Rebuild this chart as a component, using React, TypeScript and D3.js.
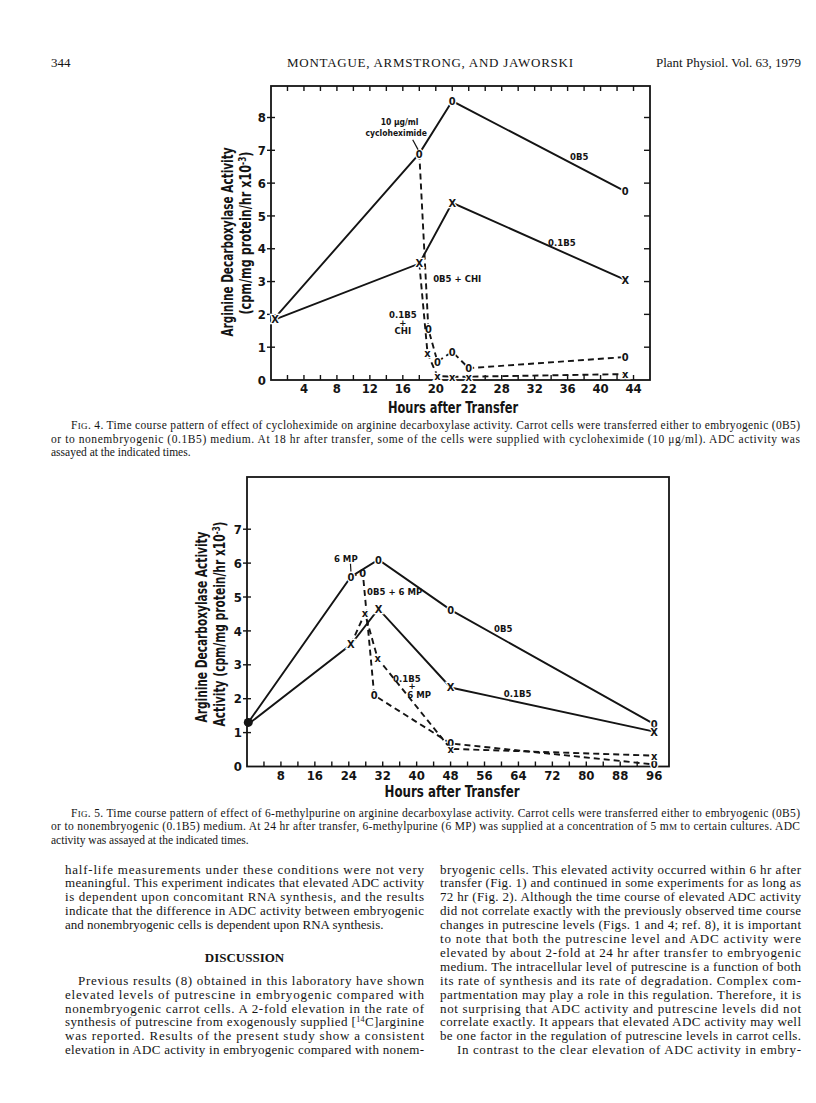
import React from 'react';
import * as d3 from 'd3';

// ---------------- Fig. 4 data (hours after transfer, ADC activity x10^-3) ----------------
const fig4Hours0B5 = [0.5, 18, 22, 43];
const fig4Act0B5 = [1.9, 6.9, 8.5, 5.75];
const fig4Hours01B5 = [0.5, 18, 22, 43];
const fig4Act01B5 = [1.85, 3.55, 5.4, 3.05];
const fig4Hours0B5CHI = [18, 19.1, 20.2, 22, 24, 43];
const fig4Act0B5CHI = [6.9, 1.55, 0.56, 0.86, 0.36, 0.7];
const fig4Hours01B5CHI = [18, 19, 20.2, 22, 24, 43];
const fig4Act01B5CHI = [3.55, 0.81, 0.12, 0.1, 0.1, 0.18];
const fig4XTickValues = [4, 8, 12, 16, 20, 24, 28, 32, 36, 40, 44];
const fig4XTickLabels = ['4', '8', '12', '16', '20', '22', '28', '32', '36', '40', '44'];
const fig4YTicks = [0, 1, 2, 3, 4, 5, 6, 7, 8];

// ---------------- Fig. 5 data ----------------
const fig5Hours0B5 = [0.3, 24.5, 31, 48, 96];
const fig5Act0B5 = [1.3, 5.6, 6.1, 4.62, 1.25];
const fig5Hours01B5 = [0.3, 24.5, 31, 48, 96];
const fig5Act01B5 = [1.25, 3.6, 4.65, 2.33, 1.03];
const fig5Hours0B5MP = [24.5, 27.3, 30, 48, 96];
const fig5Act0B5MP = [5.6, 5.72, 2.1, 0.68, 0.06];
const fig5Hours01B5MP = [24.5, 27.8, 30.8, 48, 96];
const fig5Act01B5MP = [3.6, 4.52, 3.19, 0.52, 0.32];
const fig5XTickLabels = ['8', '16', '24', '32', '40', '48', '56', '64', '72', '80', '88', '96'];
const fig5YTicks = [0, 1, 2, 3, 4, 5, 6, 7];

// ---------------- Text ----------------
const caption4 = [
  ['Time course pattern of effect of cycloheximide on arginine decarboxylase activity. Carrot cells were transferred either to embryogenic (0B5)'],
  ['or to nonembryogenic (0.1B5) medium. At 18 hr after transfer, some of the cells were supplied with cycloheximide (10 μg/ml). ADC activity was'],
  ['assayed at the indicated times.'],
];
const caption5 = [
  ['Time course pattern of effect of 6-methylpurine on arginine decarboxylase activity. Carrot cells were transferred either to embryogenic (0B5)'],
  ['or to nonembryogenic (0.1B5) medium. At 24 hr after transfer, 6-methylpurine (6 MP) was supplied at a concentration of 5 m'],
  ['activity was assayed at the indicated times.'],
];
const bodyLeftTop = [
  'half-life measurements under these conditions were not very',
  'meaningful. This experiment indicates that elevated ADC activity',
  'is dependent upon concomitant RNA synthesis, and the results',
  'indicate that the difference in ADC activity between embryogenic',
  'and nonembryogenic cells is dependent upon RNA synthesis.',
];
const bodyLeftBottom = [
  'Previous results (8) obtained in this laboratory have shown',
  'elevated levels of putrescine in embryogenic compared with',
  'nonembryogenic carrot cells. A 2-fold elevation in the rate of',
  'synthesis of putrescine from exogenously supplied [',
  'was reported. Results of the present study show a consistent',
  'elevation in ADC activity in embryogenic compared with nonem-',
];
const bodyRight = [
  'bryogenic cells. This elevated activity occurred within 6 hr after',
  'transfer (Fig. 1) and continued in some experiments for as long as',
  '72 hr (Fig. 2). Although the time course of elevated ADC activity',
  'did not correlate exactly with the previously observed time course',
  'changes in putrescine levels (Figs. 1 and 4; ref. 8), it is important',
  'to note that both the putrescine level and ADC activity were',
  'elevated by about 2-fold at 24 hr after transfer to embryogenic',
  'medium. The intracellular level of putrescine is a function of both',
  'its rate of synthesis and its rate of degradation. Complex com-',
  'partmentation may play a role in this regulation. Therefore, it is',
  'not surprising that ADC activity and putrescine levels did not',
  'correlate exactly. It appears that elevated ADC activity may well',
  'be one factor in the regulation of putrescine levels in carrot cells.',
  'In contrast to the clear elevation of ADC activity in embry-',
];

const SANS = "'Liberation Sans Narrow','Arial Narrow','DejaVu Sans Condensed','Liberation Sans',sans-serif";
const SERIF = "'Liberation Serif','Times New Roman',serif";
const INK = '#141414';

type P = [number, number];
const zip = (a: number[], b: number[]): P[] => a.map((h, i) => [h, b[i]]);

function Marker({ x, y, ch, size = 11 }: { x: number; y: number; ch: string; size?: number }) {
  return (
    <text x={x} y={y} dy="0.36em" textAnchor="middle" fontFamily={SANS} fontWeight="bold"
      fontSize={size} stroke="#fff" strokeWidth={2.5} paintOrder="stroke" fill={INK}>{ch}</text>
  );
}

function Series({ pts, x, y, dashed, ch, skipFirst = false }: any) {
  const line = d3.line<P>().x(d => x(d[0])).y(d => y(d[1]));
  return (
    <g>
      <path d={line(pts) || ''} fill="none" stroke={INK} strokeWidth={1.9}
        strokeDasharray={dashed ? '6,4' : undefined} />
      {pts.map((d: P, i: number) => (skipFirst && i === 0) ? null :
        <Marker key={i} x={x(d[0])} y={y(d[1])} ch={ch} />)}
    </g>
  );
}

function Lbl({ x, y, t, size = 9.5, anchor = 'middle' }: any) {
  return <text x={x} y={y} dy="0.35em" textAnchor={anchor} fontFamily={SANS} fontWeight="bold" fontSize={size} fill={INK}>{t}</text>;
}

function Fig4() {
  const x = d3.scaleLinear().domain([0, 46]).range([271, 650]);
  const y = d3.scaleLinear().domain([0, 8.96]).range([380, 86]);
  const minor = d3.range(2, 46, 2);
  return (
    <g>
      <rect x={x(0)} y={y(8.96)} width={x(46) - x(0)} height={y(0) - y(8.96)} fill="none" stroke={INK} strokeWidth={1.8} />
      {minor.map(h => <line key={'b' + h} x1={x(h)} x2={x(h)} y1={y(0)} y2={y(0) - 5} stroke={INK} strokeWidth={1.4} />)}
      {minor.map(h => <line key={'t' + h} x1={x(h)} x2={x(h)} y1={y(8.96)} y2={y(8.96) + 5} stroke={INK} strokeWidth={1.4} />)}
      {fig4YTicks.slice(1).map(v => <line key={'l' + v} x1={x(0) - 4} x2={x(0) + 4} y1={y(v)} y2={y(v)} stroke={INK} strokeWidth={1.4} />)}
      {fig4YTicks.slice(1).map(v => <line key={'r' + v} x1={x(46)} x2={x(46) - 6} y1={y(v)} y2={y(v)} stroke={INK} strokeWidth={1.4} />)}
      {fig4YTicks.map(v => <text key={'yl' + v} x={x(0) - 5} y={y(v)} dy="0.36em" textAnchor="end" fontFamily={SANS} fontWeight="bold" fontSize={13} fill={INK}>{v}</text>)}
      {fig4XTickValues.map((h, i) => <text key={'xl' + h} x={x(h)} y={y(0) + 13} textAnchor="middle" fontFamily={SANS} fontWeight="bold" fontSize={13} fill={INK}>{fig4XTickLabels[i]}</text>)}
      <text transform="translate(233,242) rotate(-90)" textAnchor="middle" fontFamily={SANS} fontWeight="bold" fontSize={15} fill={INK} textLength={189} lengthAdjust="spacingAndGlyphs">Arginine  Decarboxylase  Activity</text>
      <text transform="translate(251,233) rotate(-90)" textAnchor="middle" fontFamily={SANS} fontWeight="bold" fontSize={15} fill={INK} textLength={163} lengthAdjust="spacingAndGlyphs">(cpm/mg  protein/hr x10<tspan dy="-5" fontSize={10}>-3</tspan><tspan dy="5">)</tspan></text>
      <text x={453} y={413} textAnchor="middle" fontFamily={SANS} fontWeight="bold" fontSize={16} fill={INK} textLength={130} lengthAdjust="spacingAndGlyphs">Hours  after Transfer</text>

      <Series pts={zip(fig4Hours0B5CHI, fig4Act0B5CHI)} x={x} y={y} dashed ch="0" skipFirst />
      <Series pts={zip(fig4Hours01B5CHI, fig4Act01B5CHI)} x={x} y={y} dashed ch="x" skipFirst />
      <Series pts={zip(fig4Hours0B5, fig4Act0B5)} x={x} y={y} ch="0" />
      <Series pts={zip(fig4Hours01B5, fig4Act01B5)} x={x} y={y} ch="X" />

      <Lbl x={x(15.6)} y={y(7.86)} t="10 μg/ml" size={8.5} />
      <Lbl x={x(15.2)} y={y(7.52)} t="cycloheximide" size={8.5} />
      <line x1={x(17.2)} y1={y(7.32)} x2={x(17.85)} y2={y(7.02)} stroke={INK} strokeWidth={1.2} />
      <Lbl x={x(37.4)} y={y(6.8)} t="0B5" />
      <Lbl x={x(35.3)} y={y(4.2)} t="0.1B5" />
      <Lbl x={x(22.6)} y={y(3.08)} t="0B5 + CHI" />
      <Lbl x={x(16)} y={y(1.98)} t="0.1B5" />
      <Lbl x={x(16)} y={y(1.74)} t="+" />
      <Lbl x={x(16)} y={y(1.49)} t="CHI" />
    </g>
  );
}

function Fig5() {
  const x = d3.scaleLinear().domain([0, 99.5]).range([247, 669]);
  const y = d3.scaleLinear().domain([0, 8.54]).range([766.5, 477]);
  const minor = d3.range(4, 97, 4);
  const labelsAt = d3.range(8, 97, 8);
  return (
    <g>
      <rect x={x(0)} y={y(8.54)} width={x(99.5) - x(0)} height={y(0) - y(8.54)} fill="none" stroke={INK} strokeWidth={1.8} />
      {minor.map(h => <line key={'b' + h} x1={x(h)} x2={x(h)} y1={y(0)} y2={y(0) - 5} stroke={INK} strokeWidth={1.4} />)}
      {fig5YTicks.slice(1).map(v => <line key={'l' + v} x1={x(0) - 4} x2={x(0) + 4} y1={y(v)} y2={y(v)} stroke={INK} strokeWidth={1.4} />)}
      {fig5YTicks.map(v => <text key={'yl' + v} x={x(0) - 5} y={y(v)} dy="0.36em" textAnchor="end" fontFamily={SANS} fontWeight="bold" fontSize={13} fill={INK}>{v}</text>)}
      {labelsAt.map((h, i) => <text key={'xl' + h} x={x(h)} y={y(0) + 13} textAnchor="middle" fontFamily={SANS} fontWeight="bold" fontSize={13} fill={INK}>{fig5XTickLabels[i]}</text>)}
      <text transform="translate(207,627) rotate(-90)" textAnchor="middle" fontFamily={SANS} fontWeight="bold" fontSize={15} fill={INK} textLength={191} lengthAdjust="spacingAndGlyphs">Arginine  Decarboxylase  Activity</text>
      <text transform="translate(225,624) rotate(-90)" textAnchor="middle" fontFamily={SANS} fontWeight="bold" fontSize={15} fill={INK} textLength={205} lengthAdjust="spacingAndGlyphs">Activity (cpm/mg protein/hr x10<tspan dy="-5" fontSize={10}>-3</tspan><tspan dy="5">)</tspan></text>
      <text x={452} y={797} textAnchor="middle" fontFamily={SANS} fontWeight="bold" fontSize={16} fill={INK} textLength={135} lengthAdjust="spacingAndGlyphs">Hours  after  Transfer</text>

      <Series pts={zip(fig5Hours0B5MP, fig5Act0B5MP)} x={x} y={y} dashed ch="0" skipFirst />
      <Series pts={zip(fig5Hours01B5MP, fig5Act01B5MP)} x={x} y={y} dashed ch="x" skipFirst />
      <Series pts={zip(fig5Hours0B5, fig5Act0B5)} x={x} y={y} ch="0" skipFirst />
      <Series pts={zip(fig5Hours01B5, fig5Act01B5)} x={x} y={y} ch="X" skipFirst />
      <circle cx={x(fig5Hours0B5[0])} cy={y(fig5Act0B5[0])} r={4.5} fill={INK} />

      <Lbl x={x(23.3)} y={y(6.12)} t="6 MP" />
      <line x1={x(24.4)} y1={y(5.98)} x2={x(24.5)} y2={y(5.75)} stroke={INK} strokeWidth={1.2} />
      <Lbl x={x(28.3)} y={y(5.16)} t="0B5 + 6 MP" anchor="start" />
      <Lbl x={x(60.4)} y={y(4.08)} t="0B5" />
      <Lbl x={x(63.8)} y={y(2.14)} t="0.1B5" />
      <Lbl x={x(37.7)} y={y(2.6)} t="0.1B5" />
      <Lbl x={x(38.9)} y={y(2.38)} t="+" />
      <Lbl x={x(40.6)} y={y(2.11)} t="6 MP" />
    </g>
  );
}

function Caption({ num, lines, y0, tail }: any) {
  const L = 51, R = 800, step = 13.5, ind = 20;
  return (
    <g fontFamily={SERIF} fontSize={11.5} fill={INK}>
      <text x={L + ind} y={y0} textLength={R - L - ind} lengthAdjust="spacing">F<tspan fontSize={9}>IG</tspan>. {num}. {lines[0][0]}</text>
      <text x={L} y={y0 + step} textLength={R - L} lengthAdjust="spacing">{lines[1][0]}{tail}</text>
      <text x={L} y={y0 + 2 * step}>{lines[2][0]}</text>
    </g>
  );
}

function Body() {
  const L1 = 65, R1 = 424, L2 = 440, R2 = 801, step = 13.9, b0 = 873.5;
  return (
    <g fontFamily={SERIF} fontSize={13} fill={INK}>
      {bodyLeftTop.map((t, i) => (
        <text key={'lt' + i} x={L1} y={b0 + i * step} {...(i < bodyLeftTop.length - 1 ? { textLength: R1 - L1, lengthAdjust: 'spacing' } : {})}>{t}</text>
      ))}
      <text x={(L1 + R1) / 2} y={961.5} textAnchor="middle" fontWeight="bold" fontSize={13}>DISCUSSION</text>
      {bodyLeftBottom.map((t, i) => {
        const indent = i === 0 ? 13 : 0;
        return (
          <text key={'lb' + i} x={L1 + indent} y={b0 + (i + 8) * step} textLength={R1 - L1 - indent} lengthAdjust="spacing">
            {t}{i === 3 ? <><tspan dy="-4" fontSize={8}>14</tspan><tspan dy="4">C]arginine</tspan></> : null}
          </text>
        );
      })}
      {bodyRight.map((t, i) => {
        const indent = i === bodyRight.length - 1 ? 17 : 0;
        return (
          <text key={'r' + i} x={L2 + indent} y={b0 + i * step} textLength={R2 - L2 - indent} lengthAdjust="spacing">{t}</text>
        );
      })}
    </g>
  );
}

export default function App() {
  return (
    <svg width={816} height={1103} viewBox="0 0 816 1103" style={{ position: 'absolute', left: 0, top: 0, background: '#fff' }}>
      <rect width={816} height={1103} fill="#fff" />
      <g fontFamily={SERIF} fill={INK}>
        <text x={51} y={67} fontSize={13}>344</text>
        <text x={287} y={67} fontSize={13} textLength={286} lengthAdjust="spacing">MONTAGUE, ARMSTRONG, AND JAWORSKI</text>
        <text x={801} y={67} fontSize={13} textAnchor="end">Plant Physiol. Vol. 63, 1979</text>
      </g>
      <Fig4 />
      <Caption num={4} lines={caption4} y0={429} tail={null} />
      <Fig5 />
      <Caption num={5} lines={caption5} y0={816.5} tail={<><tspan fontSize={9}>M</tspan> to certain cultures. ADC</>} />
      <Body />
    </svg>
  );
}
